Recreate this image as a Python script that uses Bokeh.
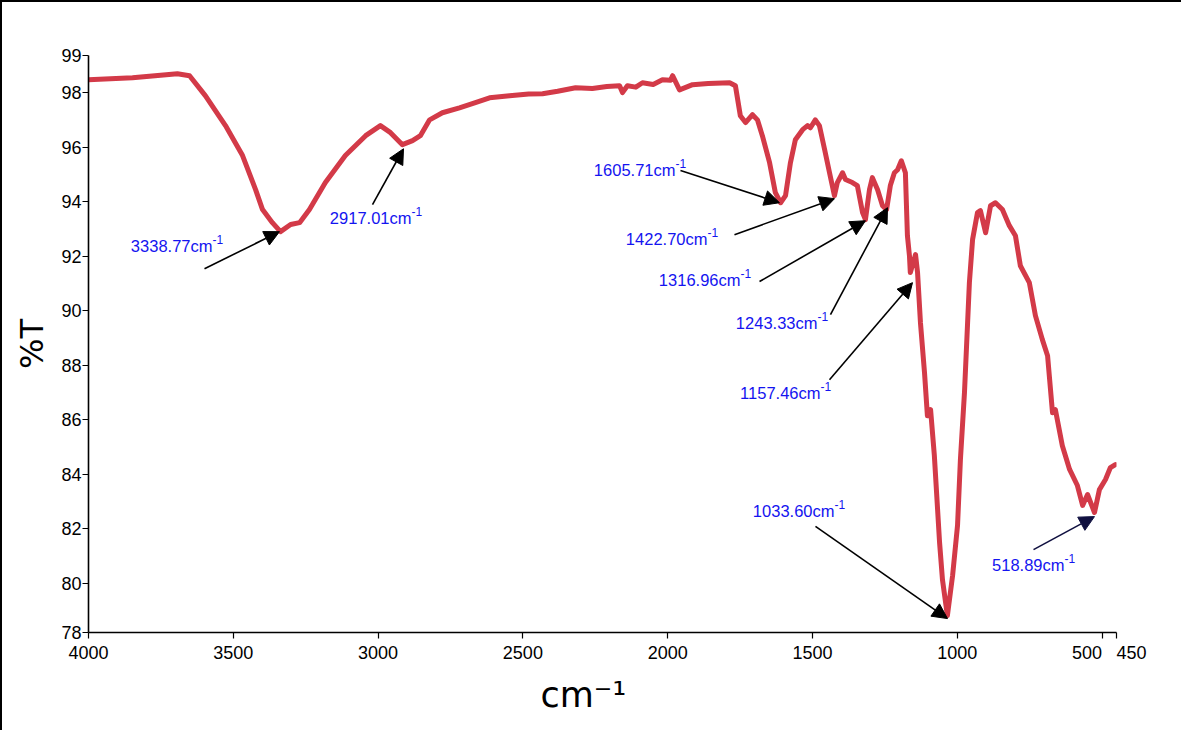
from bokeh.plotting import figure
from bokeh.models import Range1d, FixedTicker, Arrow, NormalHead, ColumnDataSource, Title
from bokeh.core.properties import value
from bokeh.embed import file_html
from bokeh.resources import INLINE

# ---------------- data ----------------
wavenumber = [4000, 3848, 3693, 3651, 3596, 3527, 3468, 3423, 3399, 3365, 3337, 3302, 3271, 3237,
              3182, 3113, 3043, 2992, 2957, 2916, 2881, 2854, 2822, 2778, 2719, 2664, 2615, 2546,
              2480, 2432, 2380, 2318, 2260, 2210, 2166, 2156, 2139, 2110, 2087, 2050, 2018, 1990,
              1983, 1959, 1914, 1860, 1786, 1766, 1749, 1731, 1707, 1690, 1673, 1648, 1628, 1610,
              1593, 1576, 1559, 1534, 1517, 1507, 1490, 1476, 1458, 1441, 1424, 1414, 1396, 1386,
              1362, 1345, 1327, 1317, 1303, 1293, 1275, 1258, 1244, 1231, 1217, 1206, 1193, 1179,
              1172, 1165, 1162, 1144, 1137, 1127, 1113, 1103, 1092, 1079, 1061, 1051, 1034, 1016,
              999, 989, 975, 958, 947, 930, 920, 902, 885, 868, 844, 820, 799, 782, 751, 730,
              706, 688, 671, 661, 637, 612, 585, 567, 550, 526, 509, 488, 471, 454]
transmittance = [98.47, 98.54, 98.69, 98.62, 97.88, 96.79, 95.69, 94.44, 93.71, 93.23, 92.90, 93.16, 93.23, 93.71,
                 94.70, 95.69, 96.42, 96.79, 96.53, 96.09, 96.24, 96.42, 97.00, 97.26, 97.44, 97.63, 97.81, 97.88,
                 97.95, 97.96, 98.05, 98.18, 98.15, 98.22, 98.25, 98.00, 98.25, 98.20, 98.36, 98.30, 98.47, 98.45,
                 98.62, 98.10, 98.29, 98.33, 98.36, 98.25, 97.15, 96.90, 97.19, 97.00, 96.42, 95.43, 94.33, 93.96,
                 94.22, 95.43, 96.27, 96.64, 96.79, 96.71, 97.00, 96.79, 95.91, 95.06, 94.22, 94.70, 95.06, 94.81,
                 94.70, 94.59, 93.60, 93.34, 94.44, 94.88, 94.44, 93.85, 93.71, 94.59, 95.06, 95.17, 95.50, 95.06,
                 92.75, 92.02, 91.40, 92.06, 91.40, 89.56, 87.73, 86.15, 86.37, 84.69, 81.50, 80.14, 78.82, 80.29,
                 82.12, 84.54, 87.00, 91.03, 92.61, 93.60, 93.67, 92.86, 93.85, 93.96, 93.71, 93.12, 92.75, 91.65,
                 91.03, 89.82, 88.94, 88.35, 86.26, 86.37, 85.05, 84.18, 83.59, 82.86, 83.26, 82.60, 83.44, 83.81,
                 84.25, 84.36]

x_ticks = [4000, 3500, 3000, 2500, 2000, 1500, 1000, 500, 450]
x_tick_labels = ["4000", "3500", "3000", "2500", "2000", "1500", "1000",
                 "500\u2007\u2007\u2007", "\u2007\u2007\u2007450"]
y_ticks = [78.2, 80, 82, 84, 86, 88, 90, 92, 94, 96, 98, 99.36]
y_tick_labels = ["78", "80", "82", "84", "86", "88", "90", "92", "94", "96", "98", "99"]

peak_labels = ["3338.77", "2917.01", "1605.71", "1422.70", "1316.96",
               "1243.33", "1157.46", "1033.60", "518.89"]
label_x = [3571.8, 2884.6, 1972.9, 1862.4, 1748.5, 1482.5, 1472.2, 1423.8, 629.6]
label_y = [92.09, 93.12, 94.88, 92.35, 90.85, 89.27, 86.70, 82.38, 80.40]
arrow_x0 = [3599.4, 3019.3, 1955.7, 1769.2, 1682.8, 1437.7, 1441.1, 1489.5, 736.6]
arrow_y0 = [91.54, 93.89, 95.14, 92.79, 91.07, 89.86, 87.47, 82.09, 81.24]
arrow_x1 = [3340.4, 2912.2, 1613.8, 1423.8, 1316.8, 1240.8, 1154.5, 1033.6, 526.0]
arrow_y1 = [92.90, 95.94, 93.96, 94.11, 93.30, 93.78, 91.03, 78.71, 82.45]

# ---------------- figure ----------------
TICK_FONT = "Liberation Sans"

p = figure(width=1181, height=730, output_backend="svg", toolbar_location=None,
           x_range=Range1d(4000, 450), y_range=Range1d(78.2, 99.36),
           min_border_left=86, min_border_top=53, min_border_right=67, min_border_bottom=100)
p.styles = {"border-top": "2px solid black", "border-left": "2px solid black"}
p.outline_line_color = None
p.xgrid.visible = False
p.ygrid.visible = False
p.background_fill_color = "white"
p.border_fill_color = "white"

p.line(wavenumber, transmittance, line_color="#d33a48", line_width=5,
       line_join="round", line_cap="round")

# axes
p.xaxis.ticker = FixedTicker(ticks=x_ticks)
p.xaxis.major_label_overrides = {t: l for t, l in zip(x_ticks, x_tick_labels)}
p.yaxis.ticker = FixedTicker(ticks=y_ticks)
p.yaxis.major_label_overrides = {t: l for t, l in zip(y_ticks, y_tick_labels)}
for ax in (p.xaxis[0], p.yaxis[0]):
    ax.axis_line_color = "black"
    ax.axis_line_width = 1.6
    ax.major_tick_line_color = "black"
    ax.major_tick_line_width = 1.2
    ax.major_tick_out = 6
    ax.major_tick_in = 0
    ax.minor_tick_line_color = None
    ax.major_label_text_font = TICK_FONT
    ax.major_label_text_font_size = "18px"
    ax.major_label_text_color = "black"
p.xaxis.major_label_standoff = 4
p.yaxis.major_label_standoff = 1

p.yaxis.axis_label = "%T"
p.yaxis.axis_label_text_font = "DejaVu Sans"
p.yaxis.axis_label_text_font_size = "32px"
p.yaxis.axis_label_text_font_style = "normal"
p.yaxis.axis_label_text_color = "black"
p.yaxis.axis_label_standoff = 7

xt = Title(text="cm\u207b\u00b9", align="left", offset=452, standoff=15,
           text_font="DejaVu Sans", text_font_size="35px", text_font_style="normal",
           text_color="black")
p.add_layout(xt, "below")

# annotation arrows
src_black = ColumnDataSource(dict(x0=arrow_x0[:8], y0=arrow_y0[:8], x1=arrow_x1[:8], y1=arrow_y1[:8]))
p.add_layout(Arrow(end=NormalHead(size=15, fill_color="black", line_color="black"),
                   x_start="x0", y_start="y0", x_end="x1", y_end="y1", source=src_black,
                   line_color="black", line_width=1.6))
src_navy = ColumnDataSource(dict(x0=arrow_x0[8:], y0=arrow_y0[8:], x1=arrow_x1[8:], y1=arrow_y1[8:]))
p.add_layout(Arrow(end=NormalHead(size=15, fill_color="#101040", line_color="#101040"),
                   x_start="x0", y_start="y0", x_end="x1", y_end="y1", source=src_navy,
                   line_color="#101040", line_width=1.6))

# annotation labels
main_txt = [s + "cm" for s in peak_labels]
p.text(x=label_x, y=label_y, text=main_txt, text_align="right", text_baseline="middle",
       y_offset=-8, text_font=value(TICK_FONT), text_font_size="16.5px", text_color="#1414f0")
p.text(x=label_x, y=label_y, text=["-1"] * len(peak_labels), text_align="left",
       text_baseline="middle", y_offset=-14,
       text_font=value(TICK_FONT), text_font_size="12px", text_color="#1414f0")

open("out.html", "w").write(file_html(p, INLINE))
